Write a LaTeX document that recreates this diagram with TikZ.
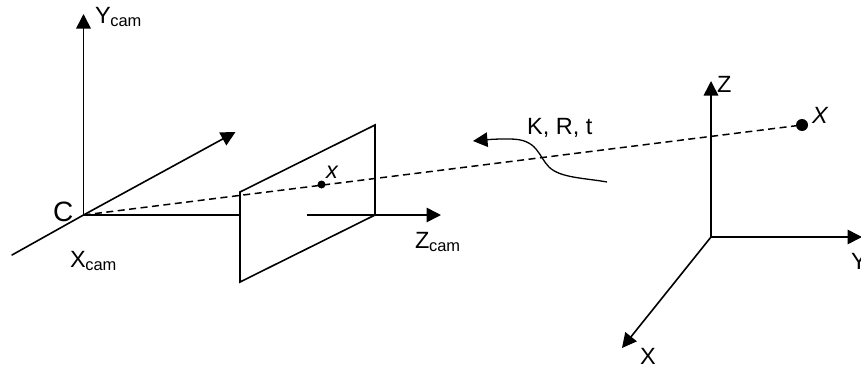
\documentclass[tikz,border=0pt]{standalone}
\usepackage{fontspec}
\setmainfont{Liberation Sans}
\usetikzlibrary{arrows.meta}
\newcommand{\lbl}[2]{#1\textsubscript{\kern-0.5pt#2}}
\tikzset{
  ax/.style={line width=1.6pt,-{Triangle[length=14.5pt,width=14.5pt]}},
  ln/.style={line width=1.6pt,line cap=round,line join=miter},
  dsh/.style={line width=1.5pt,dash pattern=on 7pt off 4.5pt},
  dotn/.style={circle,fill=black,inner sep=0pt},
  txt/.style={inner sep=0pt,font=\fontsize{23.5}{26}\selectfont,anchor=base west},
  itx/.style={txt,font=\fontsize{23.5}{26}\selectfont\itshape},
}
\begin{document}
\begin{tikzpicture}[x=1pt,y=-1pt]
\useasboundingbox (0,0) rectangle (861,370);
\coordinate (C) at (83.5,215);
\coordinate (Ytip) at (83.5,14);
\coordinate (Xend) at (12,255);
\coordinate (Xtip) at (235.5,132);
\coordinate (Ztip) at (441,215);
\coordinate (Zstart) at (307,215);
\coordinate (Pa) at (240,192);
\coordinate (Pb) at (375,125);
\coordinate (Pc) at (375,215);
\coordinate (Pd) at (240,282);
\coordinate (Pm) at (240,215);
\coordinate (O) at (711,237);
\coordinate (Oz) at (711,81);
\coordinate (Oy) at (862,237);
\coordinate (Ox) at (622,348);
\coordinate (Cs) at (607,182);
\coordinate (Ce) at (473,141);
\node[dotn,minimum size=8pt] (px) at (321.5,184.5) {};
\node[dotn,minimum size=12pt] (pX) at (802,125) {};
\draw[dsh] (C) -- (pX);
\draw[ax] (C) -- (Ytip);
\draw[ln] (Xend) -- (C);
\draw[ax] (C) -- (Xtip);
\draw[ln] (C) -- (Pm);
\draw[ln] (Pa) -- (Pb) -- (Pc) -- (Pd) -- cycle;
\draw[ax] (Zstart) -- (Ztip);
\draw[ax] (O) -- (Oz);
\draw[ax] (O) -- (Oy);
\draw[ax] (O) -- (Ox);
\draw[line width=1.3pt,-{Triangle[length=14.5pt,width=14.5pt]}] (Cs) .. controls (585,178) and (560,178) .. (549,167) .. controls (538,156) and (538,139) .. (510,139) .. controls (500,139) and (495,139) .. (Ce);
\node[txt,font=\fontsize{28}{30}\selectfont] (lC) at (53,221) {C};
\node[txt] (lY) at (95,23) {\lbl{Y}{cam}};
\node[txt] (lX) at (70,267) {\lbl{X}{cam}};
\node[txt] (lZ) at (415,248) {\lbl{Z}{cam}};
\node[itx] (lx) at (326,178) {x};
\node[itx] (lXp) at (812,123) {X};
\node[txt] (lK) at (527,134) {K, R, t};
\node[txt] (lZw) at (717,92) {Z};
\node[txt] (lYw) at (851,269) {Y};
\node[txt] (lXw) at (640,364) {X};
\end{tikzpicture}
\end{document}
